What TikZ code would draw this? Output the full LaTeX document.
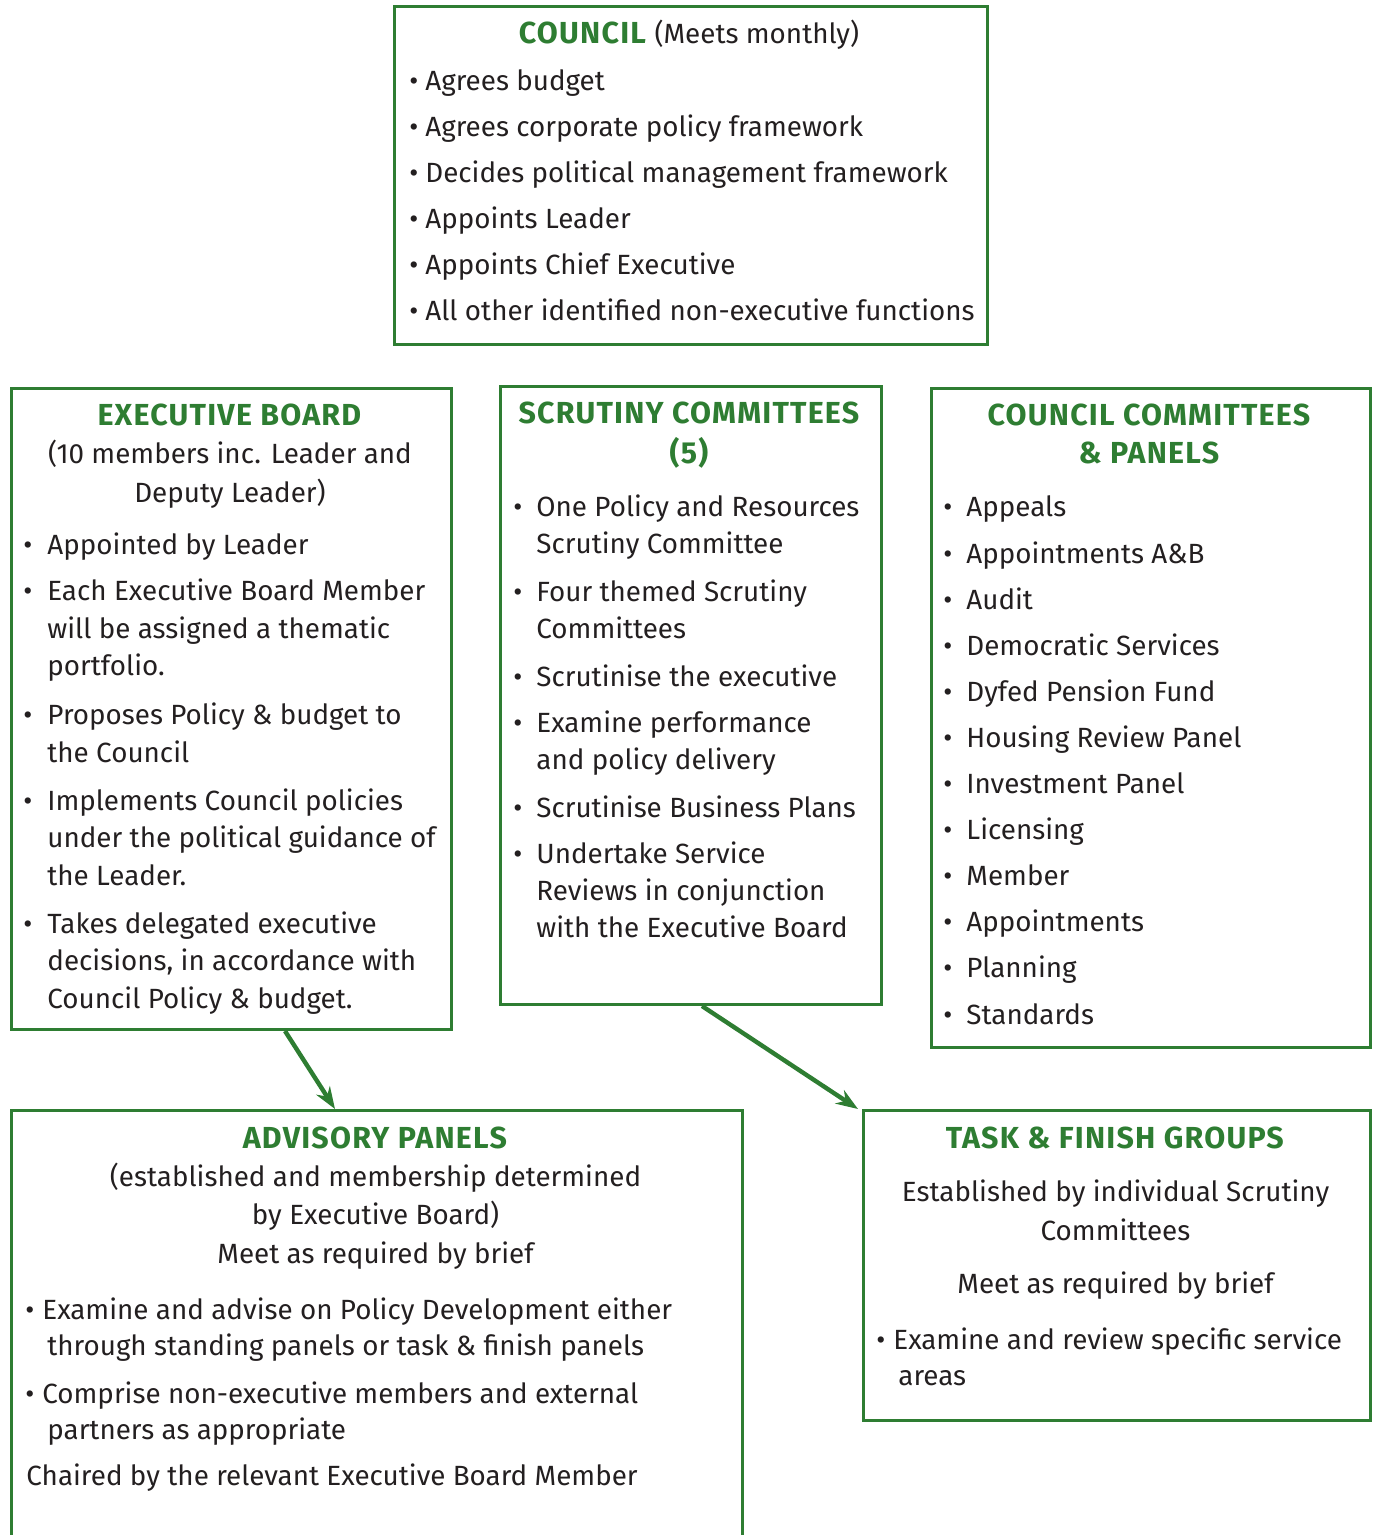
\documentclass[tikz,border=0pt]{standalone}
\usepackage{fontspec}
\setmainfont{Fira Sans}
\usetikzlibrary{arrows.meta,positioning,calc}
\definecolor{boardgreen}{RGB}{46,125,50}
\definecolor{inkgray}{RGB}{35,31,32}

\newcommand{\hd}[1]{\textcolor{boardgreen}{\fontsize{15.2}{15.2}\selectfont\addfontfeature{LetterSpace=4}\textbf{#1}}}
\newcommand{\bitem}[1][12pt]{\makebox[#1][l]{\textbullet}}
\newcommand{\bcont}[1][12pt]{\hspace*{#1}}

\begin{document}
\begin{tikzpicture}[x=0.5pt,y=-0.5pt,>={Stealth[length=11pt,width=8pt]},
    box/.style={draw=boardgreen,line width=1.5pt,anchor=north west,inner sep=0pt},
    body/.style={anchor=base west,inner sep=0pt,align=left,text=inkgray},
    title/.style={anchor=base,inner sep=0pt,align=center,text=inkgray},
    link/.style={->,draw=boardgreen,fill=boardgreen,line width=2.2pt}]
    \useasboundingbox (0,0) rectangle (1376,1535);
    % Council (nodes are placed by the baseline of their last line)
    \node[box,minimum width=296.5pt,minimum height=169pt] (council) at (393,5) {};
    \node[title,font=\fontsize{13.9}{23}\selectfont] (council-hd) at (689,44) {\hd{COUNCIL} (Meets monthly)};
    \node[body,font=\fontsize{13.9}{23}\selectfont] (council-txt) at (409,321) {%
      \bitem[8pt]Agrees budget\\
      \bitem[8pt]Agrees corporate policy framework\\
      \bitem[8pt]Decides political management framework\\
      \bitem[8pt]Appoints Leader\\
      \bitem[8pt]Appoints Chief Executive\\
      \bitem[8pt]All other identified non-executive functions};
    % Executive board
    \node[box,minimum width=220pt,minimum height=320.5pt] (exec) at (10,387) {};
    \node[title,font=\fontsize{13.9}{19.25}\selectfont] (exec-hd) at (230,502) {\hd{EXECUTIVE BOARD}\\
      (10 members inc. Leader and\\ Deputy Leader)};
    \node[body,font=\fontsize{13.9}{18.75}\selectfont] (exec-txt) at (23,1008) {%
      \bitem Appointed by Leader\\[4.25pt]
      \bitem Each Executive Board Member\\
      \bcont will be assigned a thematic\\
      \bcont portfolio.\\[5.75pt]
      \bitem Proposes Policy \& budget to\\
      \bcont the Council\\[5.25pt]
      \bitem Implements Council policies\\
      \bcont under the political guidance of\\
      \bcont the Leader.\\[5.25pt]
      \bitem Takes delegated executive\\
      \bcont decisions, in accordance with\\
      \bcont Council Policy \& budget.};
    % Scrutiny committees
    \node[box,minimum width=190.5pt,minimum height=309pt] (scrutiny) at (499,385) {};
    \node[title,font=\fontsize{13.9}{20}\selectfont] (scrutiny-hd) at (689.5,463) {\hd{SCRUTINY COMMITTEES}\\ \hd{(5)}};
    \node[body,font=\fontsize{13.9}{18.5}\selectfont] (scrutiny-txt) at (513,937) {%
      \bitem[11.5pt]One Policy and Resources\\
      \bcont[11.5pt]Scrutiny Committee\\[5.5pt]
      \bitem[11.5pt]Four themed Scrutiny\\
      \bcont[11.5pt]Committees\\[5.5pt]
      \bitem[11.5pt]Scrutinise the executive\\[4.5pt]
      \bitem[11.5pt]Examine performance\\
      \bcont[11.5pt]and policy delivery\\[5.5pt]
      \bitem[11.5pt]Scrutinise Business Plans\\[4.5pt]
      \bitem[11.5pt]Undertake Service\\
      \bcont[11.5pt]Reviews in conjunction\\
      \bcont[11.5pt]with the Executive Board};
    % Council committees and panels
    \node[box,minimum width=219.5pt,minimum height=329.5pt] (committees) at (930,387) {};
    \node[title,font=\fontsize{13.9}{19}\selectfont] (committees-hd) at (1149.5,463) {\hd{COUNCIL COMMITTEES}\\ \hd{\& PANELS}};
    \node[body,font=\fontsize{13.9}{23.05}\selectfont] (committees-txt) at (943,1024) {%
      \bitem[11.5pt]Appeals\\
      \bitem[11.5pt]Appointments A\&B\\
      \bitem[11.5pt]Audit\\
      \bitem[11.5pt]Democratic Services\\
      \bitem[11.5pt]Dyfed Pension Fund\\
      \bitem[11.5pt]Housing Review Panel\\
      \bitem[11.5pt]Investment Panel\\
      \bitem[11.5pt]Licensing\\
      \bitem[11.5pt]Member\\
      \bitem[11.5pt]Appointments\\
      \bitem[11.5pt]Planning\\
      \bitem[11.5pt]Standards};
    % Advisory panels (runs off the page)
    \node[box,minimum width=365.5pt,minimum height=230pt] (advisory) at (10,1109) {};
    \node[title,font=\fontsize{13.9}{19.15}\selectfont] (advisory-hd) at (375.5,1263) {\hd{ADVISORY PANELS}\\
      (established and membership determined\\ by Executive Board)\\ Meet as required by brief};
    \node[body,font=\fontsize{13.9}{18}\selectfont] (advisory-txt) at (25,1485) {%
      \bitem[8.5pt]Examine and advise on Policy Development either\\
      \bcont[11pt]through standing panels or task \& finish panels\\[6pt]
      \bitem[8.5pt]Comprise non-executive members and external\\
      \bcont[11pt]partners as appropriate\\[5pt]
      \bcont[0.5pt]Chaired by the relevant Executive Board Member};
    % Task and finish groups
    \node[box,minimum width=253.5pt,minimum height=155pt] (task) at (862,1109) {};
    \node[title,font=\fontsize{13.9}{19.5}\selectfont] (task-hd) at (1115.5,1293) {\hd{TASK \& FINISH GROUPS}\\[7pt]
      Established by individual Scrutiny\\ Committees\\[7pt] Meet as required by brief};
    \node[body,font=\fontsize{13.9}{18}\selectfont] (task-txt) at (876,1385) {%
      \bitem[8.5pt]Examine and review specific service\\
      \bcont[11pt]areas};
    % Links
    \draw[link] ($(exec.south west)+(275,0)$) -- ($(advisory.north west)+(325,0)$);
    \draw[link] ($(scrutiny.south west)+(203,0)$) -- ($(task.north west)+(-4,0)$);
\end{tikzpicture}
\end{document}
